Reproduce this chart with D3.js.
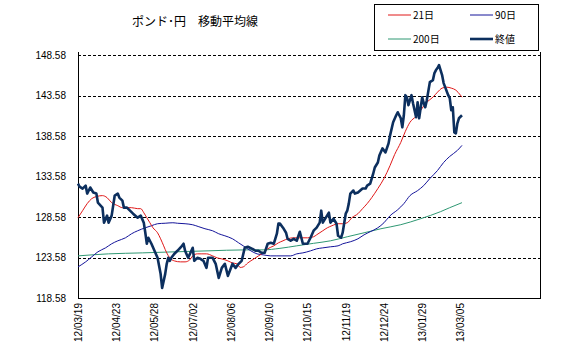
<!DOCTYPE html>
<html><head><meta charset="utf-8">
<script src="https://cdn.jsdelivr.net/npm/d3@7"></script>
<style>body{margin:0;background:#fff}svg{display:block}</style>
</head><body>
<script>
const xLabels = ["12/03/19","12/04/23","12/05/28","12/07/02","12/08/06","12/09/10","12/10/15","12/11/19","12/12/24","13/01/29","13/03/05"];
const xLabelDays = [0,25,50,75,100,125,150,175,200,225,250];
const yTicks = [118.58,123.58,128.58,133.58,138.58,143.58,148.58];
const seriesNames = ["21日","90日","200日","終値"];

// [trading day, value]
const close = [[0,132.71],[1,132.34],[3,132.09],[5,132.46],[6,131.47],[8,132.22],[10,131.6],[12,131.47],[13,130.36],[16,129.74],[17,127.88],[19,128.75],[20,127.88],[22,128.75],[24,131.23],[26,131.47],[27,130.98],[29,130.61],[30,129.74],[32,129.74],[34,129.36],[36,128.99],[39,128.5],[41,128.75],[43,127.88],[44,126.64],[45,125.28],[46,126.02],[48,125.28],[50,124.41],[52,123.54],[54,121.56],[55,119.82],[56,120.69],[57,121.56],[58,122.8],[59,123.54],[60,123.17],[61,123.54],[63,124.04],[65,124.41],[68,125.03],[69,125.28],[70,124.41],[72,123.54],[75,124.78],[76,123.17],[78,123.54],[80,123.42],[82,123.17],[84,122.3],[85,123.54],[88,123.54],[90,122.8],[92,121.06],[94,122.3],[96,122.8],[98,121.31],[101,122.8],[103,122.3],[105,122.8],[107,123.17],[109,124.78],[111,124.9],[114,124.65],[116,124.41],[118,124.41],[120,124.16],[122,124.16],[124,125.28],[126,125.4],[128,125.28],[130,126.52],[131,127.76],[132,127.76],[134,127.26],[136,126.64],[137,125.89],[139,125.65],[141,125.89],[143,125.65],[145,126.76],[146,126.02],[147,125.28],[150,125.28],[152,126.02],[154,126.89],[156,127.26],[158,127.88],[159,129.36],[160,127.88],[162,128.5],[164,129.12],[165,127.88],[167,128.37],[169,127.75],[170,126.27],[172,126.02],[173,126.64],[175,128.99],[176,129.36],[177,130.23],[178,131.47],[180,131.85],[181,131.47],[183,131.6],[186,132.09],[188,132.09],[189,132.46],[191,132.71],[193,133.95],[194,134.69],[196,135.31],[197,136.18],[199,137.05],[201,136.55],[203,137.67],[204,138.66],[206,140.27],[208,141.14],[209,141.51],[211,140.77],[212,139.65],[213,141.14],[214,143.62],[215,143.37],[216,142.38],[218,143.62],[219,142.63],[221,140.89],[222,142.75],[223,140.77],[225,143.37],[226,142.63],[227,142.13],[228,143],[230,145.23],[232,145.48],[233,146.35],[234,146.72],[235,146.97],[236,147.34],[238,146.1],[239,145.11],[240,144.61],[242,143.62],[243,143.25],[244,141.76],[245,142.13],[246,139.03],[247,138.91],[248,140.15],[249,140.77],[251,141.14]];

const ma21 = [[0,128.49],[3,129.36],[6,130.23],[9,130.85],[12,131.1],[16,131.22],[19,130.97],[22,130.35],[26,129.98],[29,129.73],[32,129.73],[35,129.73],[39,129.61],[41,129.61],[43,129.11],[45,128.49],[47,127.87],[49,127.25],[52,126.63],[54,125.89],[56,125.02],[58,124.15],[60,123.53],[63,123.16],[67,123.04],[70,123.04],[73,123.28],[75,123.78],[78,124.03],[81,124.03],[84,124.03],[88,123.78],[91,123.53],[94,123.41],[98,123.16],[101,122.91],[104,122.79],[106,122.35],[108,122.42],[111,122.91],[115,123.41],[118,123.78],[121,124.15],[124,124.65],[128,125.02],[131,125.39],[134,125.64],[137,125.89],[141,126.01],[145,126.01],[150,126.01],[154,126.14],[156,126.38],[160,126.88],[163,127.25],[166,127.5],[170,127.75],[173,127.75],[176,127.87],[179,128.49],[183,128.99],[186,129.61],[189,130.23],[192,130.97],[196,132.09],[200,133.33],[204,134.94],[207,136.3],[211,137.79],[214,139.16],[217,140.27],[221,141.02],[224,141.76],[228,142.75],[232,143.37],[235,143.99],[238,144.49],[241,144.61],[244,144.49],[247,144.24],[250,143.62],[251,143.37]];

const ma90 = [[0,122.42],[5,123.04],[9,123.66],[13,124.28],[18,124.77],[22,125.27],[26,125.64],[31,126.01],[35,126.51],[39,126.88],[44,127.25],[48,127.5],[52,127.75],[57,127.81],[62,127.87],[65,127.81],[70,127.75],[75,127.62],[79,127.38],[83,127.13],[88,126.88],[92,126.51],[96,126.26],[101,125.89],[105,125.39],[108,125.02],[113,124.4],[117,124.03],[121,123.91],[126,123.78],[130,123.78],[134,123.78],[139,123.78],[143,124.03],[147,124.15],[152,124.4],[156,124.65],[160,124.77],[165,124.9],[170,125.02],[173,125.27],[178,125.52],[183,125.89],[187,126.38],[191,126.76],[196,127.25],[200,127.87],[204,128.74],[209,129.48],[213,130.23],[217,131.22],[222,131.84],[226,132.46],[230,133.33],[235,134.32],[239,135.31],[243,136.06],[248,136.8],[251,137.42]];

const ma200 = [[0,123.78],[20,124.03],[42,124.15],[63,124.28],[85,124.4],[109,124.52],[121,124.52],[132,124.71],[143,125.02],[154,125.33],[165,125.64],[176,126.14],[187,126.63],[198,127.13],[211,127.63],[224,128.37],[237,129.24],[243,129.73],[251,130.35]];

const colors = {ma21:"#e01818", ma90:"#14149a", ma200:"#2f9873", close:"#0c2f5e"};
const W = 578, H = 357;
const L = 78, R = 540, T = 55, B = 298;
const svg = d3.select("body").append("svg").attr("width", W).attr("height", H);
const x = d3.scaleLinear().domain([0, 302]).range([L, R]);
const y = d3.scaleLinear().domain([118.58, 148.58]).range([B, T]);
const font = "'Liberation Sans', Arial, sans-serif";

// gridlines
const grid = svg.append("g").attr("transform", `translate(${L},0)`)
  .call(d3.axisLeft(y).tickValues(yTicks).tickSize(-(R - L)).tickFormat(""));
grid.select(".domain").remove();
grid.selectAll("line").attr("stroke", "#000").attr("stroke-dasharray", "3,2").attr("shape-rendering", "crispEdges");

// y labels
const ya = svg.append("g").attr("transform", `translate(${L},0)`)
  .call(d3.axisLeft(y).tickValues(yTicks).tickSize(0).tickPadding(12).tickFormat(d3.format(".2f")));
ya.select(".domain").remove();
ya.selectAll("text").attr("font-family", font).attr("font-size", 10).attr("fill", "#000");

// x labels
const xa = svg.append("g").attr("transform", `translate(0,${B})`)
  .call(d3.axisBottom(x).tickValues(xLabelDays).tickSize(0).tickFormat((d, i) => xLabels[i]));
xa.select(".domain").remove();
xa.selectAll("text").attr("font-family", font).attr("font-size", 10).attr("fill", "#000")
  .attr("transform", "rotate(-90)").attr("x", -5).attr("y", 0).attr("dy", "0.35em")
  .style("text-anchor", "end");

// frame (left, right, bottom)
svg.append("path").attr("d", `M${L},${T - 3}V${B}H${R}V${T - 3}`)
  .attr("fill", "none").attr("stroke", "#000").attr("stroke-width", 1).attr("shape-rendering", "crispEdges");

const lineLin = d3.line().x(d => x(d[0])).y(d => y(d[1]));
const lineSmooth = d3.line().x(d => x(d[0])).y(d => y(d[1])).curve(d3.curveMonotoneX);

svg.append("path").datum(ma200).attr("d", lineSmooth).attr("fill", "none").attr("stroke", colors.ma200).attr("stroke-width", 1);
svg.append("path").datum(ma90).attr("d", lineSmooth).attr("fill", "none").attr("stroke", colors.ma90).attr("stroke-width", 1);
svg.append("path").datum(ma21).attr("d", lineSmooth).attr("fill", "none").attr("stroke", colors.ma21).attr("stroke-width", 1);
svg.append("path").datum(close).attr("d", lineLin).attr("fill", "none").attr("stroke", colors.close)
  .attr("stroke-width", 2.6).attr("stroke-linejoin", "round");

// title
svg.append("text").attr("x", 132).attr("y", 26).attr("font-family", "'Noto Sans CJK JP', sans-serif")
  .attr("font-size", 12).attr("fill", "#000").text("ポンド･円　移動平均線");

// legend
svg.append("rect").attr("x", 374.5).attr("y", 4.5).attr("width", 164).attr("height", 46)
  .attr("fill", "#fff").attr("stroke", "#000").attr("stroke-width", 1);
const legendItems = [
  {name: seriesNames[0], color: colors.ma21, w: 1, lx: 388, ly: 15},
  {name: seriesNames[1], color: colors.ma90, w: 1, lx: 470, ly: 15},
  {name: seriesNames[2], color: colors.ma200, w: 1, lx: 388, ly: 39},
  {name: seriesNames[3], color: colors.close, w: 2.6, lx: 470, ly: 39}
];
const lg = svg.append("g");
legendItems.forEach(it => {
  lg.append("line").attr("x1", it.lx).attr("x2", it.lx + 23).attr("y1", it.ly).attr("y2", it.ly)
    .attr("stroke", it.color).attr("stroke-width", it.w);
  lg.append("text").attr("x", it.lx + 25).attr("y", it.ly).attr("dy", "0.35em")
    .attr("font-family", "'Noto Sans CJK JP', sans-serif").attr("font-size", 10).attr("fill", "#000").text(it.name);
});
</script>
</body></html>
